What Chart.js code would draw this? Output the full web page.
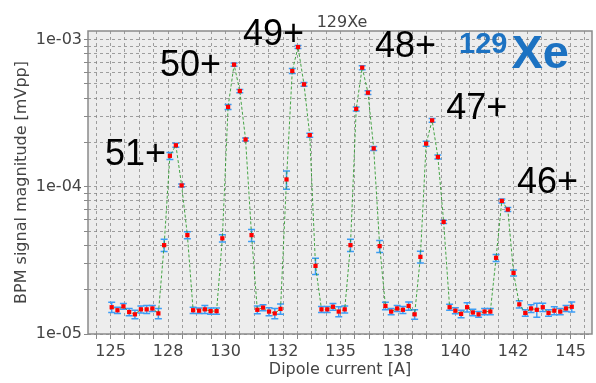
<!DOCTYPE html>
<html>
<head>
<meta charset="utf-8">
<script src="https://cdn.jsdelivr.net/npm/chart.js@4.4.1/dist/chart.umd.min.js"></script>
<style>
  html, body { margin: 0; padding: 0; background: #fff; }
  #wrap { width: 596px; height: 383px; }
</style>
</head>
<body>
<div id="wrap"><canvas id="bpm" width="596" height="383"></canvas></div>
<script>
// dipole current scan [A]
const current = [
  125.05, 125.30, 125.56, 125.81, 126.06, 126.32, 126.57, 126.82, 127.08, 127.33,
  127.58, 127.84, 128.09, 128.34, 128.59, 128.85, 129.10, 129.35, 129.61, 129.86,
  130.11, 130.37, 130.62, 130.87, 131.13, 131.38, 131.63, 131.89, 132.14, 132.39,
  132.65, 132.90, 133.15, 133.41, 133.66, 133.91, 134.17, 134.42, 134.67, 134.92,
  135.18, 135.43, 135.68, 135.94, 136.19, 136.44, 136.70, 136.95, 137.20, 137.46,
  137.71, 137.96, 138.22, 138.47, 138.72, 138.98, 139.23, 139.48, 139.74, 139.99,
  140.24, 140.50, 140.75, 141.00, 141.26, 141.51, 141.76, 142.01, 142.27, 142.52,
  142.77, 143.03, 143.28, 143.53, 143.79, 144.04, 144.29, 144.55, 144.80, 145.05
];
// BPM signal magnitude [mVpp]
const signal = [
  1.52e-5, 1.45e-5, 1.54e-5, 1.41e-5, 1.36e-5, 1.47e-5, 1.47e-5, 1.49e-5, 1.38e-5, 4.01e-5,
  1.62e-4, 1.91e-4, 1.02e-4, 4.69e-5, 1.45e-5, 1.44e-5, 1.47e-5, 1.43e-5, 1.43e-5, 4.46e-5,
  3.48e-4, 6.74e-4, 4.46e-4, 2.09e-4, 4.69e-5, 1.46e-5, 1.51e-5, 1.42e-5, 1.38e-5, 1.48e-5,
  1.12e-4, 6.10e-4, 8.87e-4, 4.95e-4, 2.24e-4, 2.90e-5, 1.47e-5, 1.47e-5, 1.53e-5, 1.42e-5,
  1.47e-5, 4.01e-5, 3.37e-4, 6.43e-4, 4.35e-4, 1.82e-4, 3.95e-5, 1.55e-5, 1.42e-5, 1.49e-5,
  1.46e-5, 1.55e-5, 1.36e-5, 3.34e-5, 1.96e-4, 2.82e-4, 1.59e-4, 5.77e-5, 1.52e-5, 1.44e-5,
  1.37e-5, 1.52e-5, 1.40e-5, 1.36e-5, 1.42e-5, 1.42e-5, 3.29e-5, 8.01e-5, 7.00e-5, 2.60e-5,
  1.59e-5, 1.39e-5, 1.49e-5, 1.46e-5, 1.52e-5, 1.39e-5, 1.44e-5, 1.42e-5, 1.49e-5, 1.53e-5
];
const signalErr = [
  0.12e-5, 0.07e-5, 0.07e-5, 0.08e-5, 0.09e-5, 0.08e-5, 0.09e-5, 0.07e-5, 0.11e-5, 0.38e-5,
  0.89e-5, 0.60e-5, 0.24e-5, 0.26e-5, 0.07e-5, 0.06e-5, 0.09e-5, 0.07e-5, 0.07e-5, 0.25e-5,
  1.40e-5, 1.60e-5, 1.10e-5, 0.50e-5, 0.44e-5, 0.09e-5, 0.07e-5, 0.09e-5, 0.11e-5, 0.12e-5,
  1.58e-5, 2.40e-5, 2.10e-5, 1.50e-5, 0.70e-5, 0.37e-5, 0.07e-5, 0.07e-5, 0.08e-5, 0.11e-5,
  0.08e-5, 0.38e-5, 1.00e-5, 2.00e-5, 1.30e-5, 0.56e-5, 0.37e-5, 0.09e-5, 0.07e-5, 0.07e-5,
  0.08e-5, 0.10e-5, 0.10e-5, 0.31e-5, 0.76e-5, 0.87e-5, 0.50e-5, 0.14e-5, 0.07e-5, 0.07e-5,
  0.08e-5, 0.11e-5, 0.07e-5, 0.06e-5, 0.07e-5, 0.07e-5, 0.18e-5, 0.25e-5, 0.22e-5, 0.12e-5,
  0.09e-5, 0.07e-5, 0.09e-5, 0.16e-5, 0.10e-5, 0.07e-5, 0.09e-5, 0.07e-5, 0.07e-5, 0.12e-5
];

const xMajorTicks = [125, 127.5, 130, 132.5, 135, 137.5, 140, 142.5, 145];
const xTickLabels = ['125', '128', '130', '132', '135', '138', '140', '142', '145'];
const yMajorTicks = [1e-5, 1e-4, 1e-3];
const yTickLabels = ['1e-05', '1e-04', '1e-03'];

// charge state labels, anchored at (current, signal) of their left baseline
const chargeStates = ['51+', '50+', '49+', '48+', '47+', '46+'];
const chargeX = [124.76, 127.15, 130.76, 136.5, 139.59, 142.67];
const chargeY = [1.40e-4, 5.61e-4, 9.10e-4, 7.55e-4, 2.87e-4, 9.03e-5];

const xMinorStep = 0.625;

const decor = {
  id: 'decor',
  beforeDraw(chart) {
    const { ctx, chartArea: a } = chart;
    ctx.save();
    ctx.fillStyle = '#ededed';
    ctx.fillRect(a.left, a.top, a.right - a.left, a.bottom - a.top);
    ctx.restore();
  },
  beforeDatasetsDraw(chart) {
    const { ctx, scales: { x, y } } = chart;
    ctx.save();
    ctx.strokeStyle = '#3d9df5';
    ctx.lineWidth = 1.5;
    current.forEach((c, i) => {
      const px = x.getPixelForValue(c);
      const top = y.getPixelForValue(signal[i] + signalErr[i]);
      const bot = y.getPixelForValue(signal[i] - signalErr[i]);
      ctx.beginPath();
      ctx.moveTo(px, top); ctx.lineTo(px, bot);
      ctx.moveTo(px - 3.5, top); ctx.lineTo(px + 3.5, top);
      ctx.moveTo(px - 3.5, bot); ctx.lineTo(px + 3.5, bot);
      ctx.stroke();
    });
    ctx.restore();
  },
  afterDraw(chart) {
    const { ctx, chartArea: a, scales: { x, y } } = chart;
    ctx.save();
    // axes box
    ctx.strokeStyle = '#8a8a8a';
    ctx.lineWidth = 1.5;
    ctx.strokeRect(a.left, a.top, a.right - a.left, a.bottom - a.top);

    // title
    ctx.fillStyle = '#444';
    ctx.font = '16px "DejaVu Sans"';
    ctx.textAlign = 'center';
    ctx.textBaseline = 'alphabetic';
    ctx.fillText('129Xe', (a.left + a.right) / 2 + 2, a.top - 4);

    // charge states
    ctx.fillStyle = '#000';
    ctx.font = '36px "Liberation Sans"';
    ctx.textAlign = 'left';
    chargeStates.forEach((s, i) => {
      ctx.fillText(s, x.getPixelForValue(chargeX[i]), y.getPixelForValue(chargeY[i]));
    });

    // isotope tag
    ctx.fillStyle = '#1c72c2';
    ctx.font = 'bold 29px "Liberation Sans"';
    const ix = x.getPixelForValue(140.15);
    const iy = y.getPixelForValue(8.03e-4);
    ctx.fillText('129', ix, iy);
    const w = ctx.measureText('129').width;
    ctx.font = 'bold 47px "Liberation Sans"';
    ctx.fillText('Xe', ix + w + 4, iy + 15);
    ctx.restore();
  }
};

new Chart(document.getElementById('bpm'), {
  type: 'line',
  data: {
    datasets: [{
      data: current.map((c, i) => ({ x: c, y: signal[i] })),
      borderColor: 'rgba(40,150,40,0.85)',
      borderWidth: 1,
      borderDash: [3, 2],
      tension: 0,
      pointStyle: 'rect',
      pointRadius: 3,
      pointBackgroundColor: '#ff0000',
      pointBorderWidth: 0
    }]
  },
  options: {
    responsive: false,
    devicePixelRatio: 1,
    animation: false,
    layout: { padding: { top: 31, right: 4, left: 0, bottom: 0 } },
    plugins: { legend: { display: false }, tooltip: { enabled: false } },
    scales: {
      x: {
        type: 'linear',
        min: 124.02,
        max: 145.93,
        bounds: 'data',
        afterBuildTicks: s => {
          const ticks = [];
          for (let v = xMajorTicks[0] - xMinorStep; v <= s.max + 1e-9; v += xMinorStep) ticks.push({ value: v });
          s.ticks = ticks;
        },
        afterFit: s => { s.height = 49; },
        ticks: {
          autoSkip: false,
          maxRotation: 0,
          padding: 3,
          color: '#444',
          font: { family: 'DejaVu Sans', size: 16 },
          callback: v => {
            const i = xMajorTicks.findIndex(t => Math.abs(t - v) < 1e-6);
            return i >= 0 ? xTickLabels[i] : '';
          }
        },
        grid: { color: 'rgba(130,130,130,0.75)', lineWidth: 1, tickLength: 5, tickColor: '#888', tickBorderDash: [] },
        border: { display: false, dash: [3, 3] },
        title: { display: true, text: 'Dipole current [A]', color: '#444', font: { family: 'DejaVu Sans', size: 16 }, padding: { top: 0, bottom: 4 } }
      },
      y: {
        type: 'logarithmic',
        min: 1e-5,
        max: 1.14e-3,
        bounds: 'data',
        afterBuildTicks: s => {
          const ticks = [];
          yMajorTicks.forEach(d => {
            for (let k = 1; k <= 9; k++) {
              const v = d * k;
              if (v <= s.max) ticks.push({ value: v });
            }
          });
          s.ticks = ticks;
        },
        afterFit: s => { s.width = 88; },
        ticks: {
          autoSkip: false,
          padding: 2,
          color: '#444',
          font: { family: 'DejaVu Sans', size: 16 },
          callback: v => {
            const i = yMajorTicks.findIndex(t => Math.abs(t - v) / t < 1e-6);
            return i >= 0 ? yTickLabels[i] : '';
          }
        },
        grid: { color: 'rgba(130,130,130,0.75)', lineWidth: 1, tickLength: 4, tickColor: '#888', tickBorderDash: [] },
        border: { display: false, dash: [3, 3] },
        title: { display: true, text: 'BPM signal magnitude [mVpp]', color: '#444', font: { family: 'DejaVu Sans', size: 16 }, padding: { top: 12, bottom: 0 } }
      }
    }
  },
  plugins: [decor]
});
</script>
</body>
</html>
